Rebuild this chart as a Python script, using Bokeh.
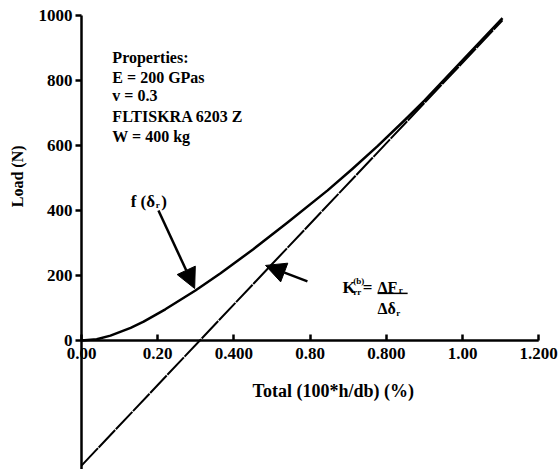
import math
from bokeh.plotting import figure
from bokeh.models import (Range1d, LinearAxis, FixedTicker, Label, Arrow, NormalHead)
from bokeh.embed import file_html
from bokeh.resources import INLINE

# ---- data ----
curve_x = [0.0, 0.04, 0.076, 0.129, 0.163, 0.22, 0.299, 0.365, 0.45, 0.54, 0.646, 0.71, 0.777, 0.85, 0.90, 1.00, 1.105]
curve_y = [0.0, 4.0, 15.0, 39.0, 58.0, 96.0, 154.0, 207.0, 280.0, 362.0, 462.0, 527.0, 598.0, 680.0, 738.0, 862.0, 992.0]
tangent_x = [0.0, 1.105]
tangent_y = [-385.0, 985.0]

x_ticks = [0.0, 0.2, 0.4, 0.6, 0.8, 1.0, 1.2]
x_tick_labels = ["0.00", "0.20", "0.400", "0.80", "0.800", "1.00", "1.200"]
y_ticks = [0, 200, 400, 600, 800, 1000]
y_tick_labels = ["0", "200", "400", "600", "800", "1000"]
y_axis_bottom = -397

props_lines = ["Properties:", "E = 200 GPas", "v = 0.3", "FLTISKRA 6203 Z", "W = 400 kg"]

FONT = "Liberation Serif"

# layout: frame covers the whole canvas; origin at (81px, 340px)
X0_PX, XS = 81, 381.0     # px per x unit
Y0_PX, YS = 340, 0.325    # px per y unit
W, H = 560, 469

p = figure(width=W, height=H, output_backend="svg", toolbar_location=None,
           x_range=Range1d(-X0_PX / XS, (W - X0_PX) / XS),
           y_range=Range1d((Y0_PX - H) / YS, Y0_PX / YS),
           x_axis_location=None, y_axis_location=None,
           min_border_left=0, min_border_right=0, min_border_top=0, min_border_bottom=0)
p.outline_line_color = None
p.xgrid.visible = False
p.ygrid.visible = False
p.background_fill_color = "white"
p.border_fill_color = "white"

# y axis at x = 0
yax = LinearAxis(ticker=FixedTicker(ticks=y_ticks), fixed_location=0,
                 major_label_overrides={t: l for t, l in zip(y_ticks, y_tick_labels)})
yax.axis_line_color = None
yax.major_tick_line_width = 2.5
yax.major_tick_out = 6
yax.major_tick_in = 0
yax.minor_tick_out = 0
yax.minor_tick_in = 0
yax.major_label_standoff = 3
yax.major_label_text_font = FONT
yax.major_label_text_font_style = "bold"
yax.major_label_text_font_size = "17px"
yax.major_label_text_color = "black"
p.add_layout(yax, "left")

# x axis at y = 0
xax = LinearAxis(ticker=FixedTicker(ticks=x_ticks), fixed_location=0,
                 major_label_overrides={t: l for t, l in zip(x_ticks, x_tick_labels)})
xax.axis_line_color = None
xax.major_tick_line_width = 2.5
xax.major_tick_out = 0
xax.major_tick_in = 6
xax.minor_tick_out = 0
xax.minor_tick_in = 0
xax.major_label_standoff = 7
xax.major_label_text_font = FONT
xax.major_label_text_font_style = "bold"
xax.major_label_text_font_size = "17px"
xax.major_label_text_color = "black"
p.add_layout(xax, "below")

# axis lines limited to the tick span
p.segment(x0=[x_ticks[0]], y0=[0], x1=[x_ticks[-1]], y1=[0], line_color="black", line_width=2.5)
p.segment(x0=[0], y0=[y_axis_bottom], x1=[0], y1=[y_ticks[-1]], line_color="black", line_width=2.5)

# curves
p.line(curve_x, curve_y, line_color="black", line_width=2.5, line_join="round")
p.line(tangent_x, tangent_y, line_color="black", line_width=2, line_dash="24 1")

def lab(x, y, text, size="15px", **kw):
    kw.setdefault("text_baseline", "alphabetic")
    l = Label(x=x, y=y, text=text, text_font=FONT, text_font_style="bold",
              text_font_size=size, text_color="black", **kw)
    p.add_layout(l)
    return l

# properties block
for txt, yb in zip(props_lines, [871, 809, 754, 689, 628]):
    lab(0.081, yb, txt, "16px")

# axis titles
lab(-0.168, 505, "Load (N)", "16px", angle=math.pi / 2, text_align="center", text_baseline="middle")
lab(0.449, -155, "Total (100*h/db) (%)", "18px")

# f(delta_r) label
lab(0.129, 428, "f (δ", "17px")
lab(0.195, 416, "r", "9px")
lab(0.209, 428, ")", "17px")

# stiffness formula
lab(0.685, 163, "K", "17px")
lab(0.713, 183, "(b)", "9px")
lab(0.713, 150, "rr", "9px")
lab(0.738, 163, "=", "17px")
lab(0.777, 163, "ΔF", "16px")
lab(0.833, 154, "r", "9px")
lab(0.777, 98, "Δδ", "16px")
lab(0.826, 86, "r", "9px")
p.add_layout(Arrow(x_start=0.777, y_start=145, x_end=0.856, y_end=145, end=None,
                   line_color="black", line_width=1.5))

# arrows
p.add_layout(Arrow(x_start=0.202, y_start=400, x_end=0.297, y_end=160,
                   line_width=2.5, line_color="black",
                   end=NormalHead(size=20, fill_color="black", line_color="black")))
p.add_layout(Arrow(x_start=0.593, y_start=182, x_end=0.483, y_end=231,
                   line_width=2.5, line_color="black",
                   end=NormalHead(size=20, fill_color="black", line_color="black")))

open("out.html", "w").write(file_html(p, INLINE))
